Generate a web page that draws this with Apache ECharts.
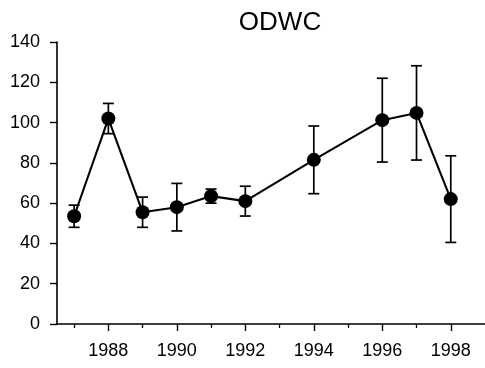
<!DOCTYPE html>
<html>
<head>
<meta charset="utf-8">
<script src="https://cdn.jsdelivr.net/npm/echarts@6/dist/echarts.min.js"></script>
<style>
  html, body { margin: 0; padding: 0; background: #fff; }
  #chart { width: 485px; height: 368px; }
</style>
</head>
<body>
<div id="chart"></div>
<script>
// Yearly ODWC means with error-bar half-widths
const years = [1987, 1988, 1989, 1990, 1991, 1992, 1994, 1996, 1997, 1998];
const means = [53.5, 102, 55.5, 58, 63.5, 61, 81.5, 101.2, 104.8, 62];
const errors = [5.5, 7.5, 7.5, 11.8, 3.5, 7.4, 16.8, 20.8, 23.4, 21.5];

const majorYears = [1988, 1990, 1992, 1994, 1996, 1998];
const minorYears = [1987, 1989, 1991, 1993, 1995, 1997];
const yTicks = [0, 20, 40, 60, 80, 100, 120, 140];

const FONT = '"Liberation Sans", Arial, sans-serif';

const linePoints = years.map((y, i) => [y, means[i]]);
const errorRows = years.map((y, i) => [y, means[i] - errors[i], means[i] + errors[i]]);

const chart = echarts.init(document.getElementById('chart'), null, { renderer: 'canvas' });

chart.setOption({
  animation: false,
  backgroundColor: '#fff',
  title: {
    text: 'ODWC',
    left: 275,
    top: 5,
    textAlign: 'center',
    textStyle: { fontFamily: FONT, fontSize: 26, fontWeight: 'normal', color: '#000' }
  },
  grid: { left: 57, right: 0, top: 42, bottom: 44, outerBoundsMode: 'none', containLabel: false },
  xAxis: [
    {
      type: 'value',
      position: 'bottom',
      min: 1986.5,
      max: 1999,
      splitLine: { show: false },
      axisLine: { show: true, onZero: false, lineStyle: { color: '#000', width: 1.6 } },
      axisTick: { show: true, length: 7, customValues: majorYears, lineStyle: { color: '#000', width: 1.4 } },
      axisLabel: {
        show: true, customValues: majorYears, margin: 18,
        fontFamily: FONT, fontSize: 18, color: '#000',
        formatter: v => String(v)
      }
    },
    {
      type: 'value',
      position: 'bottom',
      min: 1986.5,
      max: 1999,
      splitLine: { show: false },
      axisLine: { show: false, onZero: false },
      axisTick: { show: true, length: 4, customValues: minorYears, lineStyle: { color: '#000', width: 1.3 } },
      axisLabel: { show: false }
    }
  ],
  yAxis: {
    type: 'value',
    min: 0,
    max: 140,
    interval: 20,
    splitLine: { show: false },
    axisLine: { show: true, onZero: false, lineStyle: { color: '#000', width: 1.6 } },
    axisTick: { show: true, length: 7, lineStyle: { color: '#000', width: 1.4 } },
    axisLabel: {
      customValues: yTicks,
      margin: 17,
      fontFamily: FONT, fontSize: 18, color: '#000'
    }
  },
  series: [
    {
      type: 'custom',
      name: 'error',
      z: 1,
      data: errorRows,
      renderItem: function (params, api) {
        const x = api.value(0);
        const lo = api.coord([x, api.value(1)]);
        const hi = api.coord([x, api.value(2)]);
        const cap = 5.5;
        const style = { stroke: '#000', lineWidth: 1.7 };
        return {
          type: 'group',
          children: [
            { type: 'line', shape: { x1: lo[0], y1: lo[1], x2: hi[0], y2: hi[1] }, style },
            { type: 'line', shape: { x1: hi[0] - cap, y1: hi[1], x2: hi[0] + cap, y2: hi[1] }, style },
            { type: 'line', shape: { x1: lo[0] - cap, y1: lo[1], x2: lo[0] + cap, y2: lo[1] }, style }
          ]
        };
      }
    },
    {
      type: 'line',
      name: 'ODWC',
      z: 3,
      data: linePoints,
      symbol: 'circle',
      symbolSize: 14,
      showSymbol: true,
      lineStyle: { color: '#000', width: 2.1 },
      itemStyle: { color: '#000', borderWidth: 0 }
    }
  ]
});
</script>
</body>
</html>
